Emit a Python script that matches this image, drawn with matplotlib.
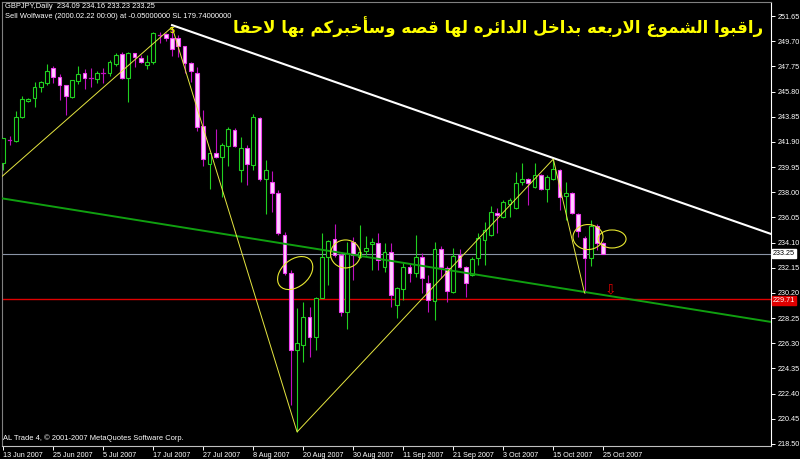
import numpy as np
import matplotlib
matplotlib.use('Agg')
import matplotlib.pyplot as plt
from matplotlib.patches import Rectangle, Ellipse
from matplotlib.transforms import ScaledTranslation

# GBPJPY daily, 13 Jun 2007 .. 25 Oct 2007 (one bar per trading day)
opens = [240.26, 242.05, 241.97, 243.83, 245.07, 245.30, 246.15, 246.46, 247.62, 246.93,
         246.31, 245.38, 246.62, 247.23, 246.85, 246.77, 247.23, 247.23, 247.93, 248.71,
         246.85, 248.78, 248.40, 247.85, 248.09, 250.18, 250.26, 249.95, 249.95, 249.33,
         248.01, 247.23, 243.13, 240.19, 241.04, 240.73, 241.58, 242.82, 239.72, 241.43,
         240.11, 243.75, 239.02, 238.79, 237.94, 234.69, 231.74, 225.78, 226.17, 228.34,
         226.79, 229.81, 232.98, 234.38, 233.14, 228.72, 234.15, 232.98, 233.45, 233.99,
         234.07, 232.21, 233.37, 229.27, 230.50, 232.21, 231.74, 232.98, 230.97, 229.57,
         233.60, 232.13, 230.27, 233.14, 232.21, 231.59, 232.91, 234.30, 234.69, 236.39,
         236.08, 237.09, 236.78, 238.79, 239.02, 238.41, 239.33, 238.25, 239.02, 239.72,
         237.71, 237.94, 236.31, 234.45, 232.91, 235.38, 234.09]
highs = [242.20, 242.36, 244.29, 245.45, 245.30, 246.54, 246.62, 247.93, 247.78, 247.16,
         246.31, 246.69, 247.78, 247.54, 247.62, 247.39, 247.62, 248.24, 248.78, 248.86,
         248.86, 248.78, 248.63, 248.63, 250.41, 250.41, 250.33, 250.80, 250.18, 249.33,
         248.09, 247.70, 244.37, 241.04, 242.90, 241.81, 243.05, 242.98, 242.28, 241.66,
         244.06, 243.83, 240.50, 239.64, 238.17, 234.92, 231.98, 229.03, 229.50, 229.11,
         229.88, 234.84, 234.30, 235.54, 233.29, 234.15, 234.53, 235.46, 234.61, 234.45,
         234.84, 234.07, 234.07, 230.66, 232.52, 232.52, 234.69, 233.29, 231.59, 234.15,
         233.83, 232.29, 233.68, 233.60, 232.29, 232.98, 234.84, 235.69, 236.93, 236.78,
         237.40, 237.55, 239.57, 240.26, 239.10, 240.26, 239.41, 239.33, 240.57, 239.80,
         238.79, 238.02, 236.39, 234.61, 235.85, 235.54, 234.16]
lows = [239.72, 241.66, 241.89, 243.75, 244.99, 244.60, 245.76, 246.31, 246.46, 245.14,
        243.98, 245.30, 246.38, 246.00, 246.15, 246.46, 246.46, 247.00, 247.78, 246.77,
        244.99, 247.70, 248.01, 247.54, 247.93, 249.56, 249.71, 248.55, 248.47, 247.23,
        246.54, 242.74, 240.03, 238.25, 240.65, 237.63, 240.03, 241.50, 238.79, 238.56,
        239.72, 238.87, 236.31, 236.47, 234.69, 231.59, 221.52, 219.43, 224.85, 225.24,
        225.78, 229.81, 230.81, 232.98, 228.41, 227.41, 231.20, 232.91, 233.14, 231.98,
        231.98, 231.82, 229.11, 228.26, 229.65, 231.05, 231.43, 230.19, 228.72, 228.10,
        231.36, 229.50, 230.19, 232.13, 229.88, 231.51, 232.36, 232.36, 234.61, 234.84,
        236.00, 236.08, 236.70, 238.56, 237.01, 238.33, 238.17, 237.24, 238.95, 236.62,
        235.85, 236.31, 234.53, 230.19, 232.29, 233.53, 233.23]
closes = [242.20, 241.97, 243.83, 245.22, 245.22, 246.15, 246.54, 247.39, 246.93, 246.31,
          245.45, 246.69, 247.16, 246.85, 246.77, 247.23, 247.16, 248.09, 248.63, 246.85,
          248.78, 248.47, 248.09, 248.09, 250.33, 250.10, 249.95, 249.09, 249.33, 248.01,
          247.39, 243.05, 240.57, 241.04, 240.73, 241.66, 242.90, 241.58, 241.43, 240.19,
          243.83, 239.02, 239.72, 237.94, 234.84, 231.74, 225.78, 226.32, 228.34, 226.79,
          229.81, 232.98, 234.22, 233.14, 228.72, 233.29, 233.14, 233.37, 233.68, 234.15,
          232.75, 233.37, 230.04, 230.58, 232.21, 231.74, 232.98, 231.36, 229.65, 233.60,
          232.21, 230.35, 233.06, 232.21, 230.97, 232.83, 234.45, 235.07, 236.47, 236.24,
          237.24, 237.40, 238.72, 239.02, 238.72, 239.33, 238.25, 239.18, 239.80, 237.63,
          237.94, 236.39, 235.00, 232.91, 235.38, 234.07, 233.25]

date_labels = ['13 Jun 2007', '25 Jun 2007', '5 Jul 2007', '17 Jul 2007', '27 Jul 2007',
               '8 Aug 2007', '20 Aug 2007', '30 Aug 2007', '11 Sep 2007', '21 Sep 2007',
               '3 Oct 2007', '15 Oct 2007', '25 Oct 2007']
price_ticks = [218.50 + 1.95 * k for k in range(18)]

last_price = 233.25
stop_level = 229.71

# wolfe wave zigzag (bar index, price)
wolfe_x = [-0.5, 27, 47, 88, 93]
wolfe_y = [239.10, 250.80, 219.43, 240.57, 230.19]
# trend lines, two anchor points each
white_line = [(27, 250.95), (88, 240.65)]
green_line = [(0, 237.51), (96, 230.04)]
# hand drawn circles: bar, price, width(in), height(in), angle
circles = [(46.7, 231.74, 0.40, 0.27, 40), (54.75, 233.22, 0.30, 0.28, 0),
           (93.55, 234.53, 0.30, 0.25, 0), (97.4, 234.38, 0.28, 0.18, 0)]

title = 'راقبوا الشموع الاربعه بداخل الدائره لها قصه وسأخبركم بها لاحقا'

# very small arabic shaper (matplotlib has no shaping / bidi)
FORMS = {
    'ا': ('\uFE8D', '\uFE8E', None, None),
    'أ': ('\uFE83', '\uFE84', None, None),
    'ب': ('\uFE8F', '\uFE90', '\uFE91', '\uFE92'),
    'ح': ('\uFEA1', '\uFEA2', '\uFEA3', '\uFEA4'),
    'خ': ('\uFEA5', '\uFEA6', '\uFEA7', '\uFEA8'),
    'د': ('\uFEA9', '\uFEAA', None, None),
    'ر': ('\uFEAD', '\uFEAE', None, None),
    'س': ('\uFEB1', '\uFEB2', '\uFEB3', '\uFEB4'),
    'ش': ('\uFEB5', '\uFEB6', '\uFEB7', '\uFEB8'),
    'ص': ('\uFEB9', '\uFEBA', '\uFEBB', '\uFEBC'),
    'ع': ('\uFEC9', '\uFECA', '\uFECB', '\uFECC'),
    'ق': ('\uFED5', '\uFED6', '\uFED7', '\uFED8'),
    'ك': ('\uFED9', '\uFEDA', '\uFEDB', '\uFEDC'),
    'ل': ('\uFEDD', '\uFEDE', '\uFEDF', '\uFEE0'),
    'م': ('\uFEE1', '\uFEE2', '\uFEE3', '\uFEE4'),
    'ه': ('\uFEE9', '\uFEEA', '\uFEEB', '\uFEEC'),
    'و': ('\uFEED', '\uFEEE', None, None),
    'ئ': ('\uFE89', '\uFE8A', '\uFE8B', '\uFE8C'),
}


def shape(text):
    words = []
    for word in text.split(' '):
        ch = list(word)
        res = []
        i = 0
        while i < len(ch):
            c = ch[i]
            prev_joins = i > 0 and FORMS[ch[i - 1]][2] is not None
            if c == 'ل' and i + 1 < len(ch) and ch[i + 1] == 'ا':
                res.append('\uFEFC' if prev_joins else '\uFEFB')
                i += 2
                continue
            f = FORMS[c]
            next_joins = f[2] is not None and i + 1 < len(ch)
            if prev_joins and next_joins:
                res.append(f[3])
            elif prev_joins:
                res.append(f[1])
            elif next_joins:
                res.append(f[2])
            else:
                res.append(f[0])
            i += 1
        words.append(''.join(res))
    return ' '.join(words)[::-1]


W, H = 800, 459
fig = plt.figure(figsize=(W / 100, H / 100), dpi=100, facecolor='black')
ax = fig.add_axes([2 / W, 13 / H, 769 / W, 444 / H])
ax.set_facecolor('black')

n = len(opens)
bw = 0.6
for i in range(n):
    o, h, l, c = opens[i], highs[i], lows[i], closes[i]
    bull = c > o
    wick_col = '#20d020' if bull else '#c010c0'
    ax.plot([i, i], [l, h], color=wick_col, lw=0.8, zorder=2, solid_capstyle='butt')
    if abs(c - o) < 0.1:
        ax.plot([i - bw / 2, i + bw / 2], [o, o], color=wick_col, lw=0.9, zorder=3)
    elif bull:
        ax.add_patch(Rectangle((i - bw / 2, o), bw, c - o, facecolor='black',
                               edgecolor='#20d020', lw=0.8, zorder=3))
    else:
        ax.add_patch(Rectangle((i - bw / 2, c), bw, o - c, facecolor='#ffd0ff',
                               edgecolor='#f040f0', lw=0.8, zorder=3))

xmin, xmax = -0.21, 122.83
ymin, ymax = 218.34, 252.74

# horizontal levels
ax.axhline(last_price, color='#8a94a6', lw=0.8, zorder=1)
ax.axhline(stop_level, color='#e00000', lw=1.0, zorder=1)

# trend lines extended across the chart
(x1, y1), (x2, y2) = green_line
k = (y2 - y1) / (x2 - x1)
ax.plot([xmin, xmax], [y1 + k * (xmin - x1), y1 + k * (xmax - x1)], color='#10a010', lw=1.4, zorder=4)
(x1, y1), (x2, y2) = white_line
k = (y2 - y1) / (x2 - x1)
ax.plot([x1, xmax], [y1, y1 + k * (xmax - x1)], color='white', lw=1.5, zorder=4)

ax.plot(wolfe_x, wolfe_y, color='#e6e640', lw=0.7, zorder=5)
ax.text(wolfe_x[1], wolfe_y[1] - 0.3, '5', color='#f0f000', fontsize=6.5,
        ha='center', va='center', family='Liberation Sans', fontweight='bold', zorder=6)

for cx, cy, w, h, ang in circles:
    tr = fig.dpi_scale_trans + ScaledTranslation(cx, cy, ax.transData)
    ax.add_patch(Ellipse((0, 0), w, h, angle=ang, transform=tr, fill=False,
                         edgecolor='#e8e830', lw=0.8, zorder=6))

ax.text(97.2, 230.5, '\u21e9', color='#e00000', fontsize=10, ha='center', va='center', zorder=6)

ax.set_xlim(xmin, xmax)
ax.set_ylim(ymin, ymax)

ax.set_xticks([8 * j - 0.1 for j in range(len(date_labels))])
ax.set_xticklabels(date_labels, ha='left', family='Liberation Sans', fontsize=5.2)
ax.set_yticks(price_ticks)
ax.set_yticklabels(['%.2f' % p for p in price_ticks], family='Liberation Sans', fontsize=5.2)
ax.yaxis.tick_right()
ax.tick_params(axis='both', colors='white', length=3, width=0.7, pad=1.5)
ax.tick_params(axis='x', pad=1)

for side in ['left', 'top']:
    ax.spines[side].set_color('#808080')
    ax.spines[side].set_linewidth(0.8)
ax.spines['right'].set_color('white')
ax.spines['bottom'].set_color('#c0c0c0')

# price boxes on the scale
ax.annotate('%.2f' % last_price, xy=(1.0, last_price), xycoords=('axes fraction', 'data'),
            xytext=(1.5, 0), textcoords='offset points', va='center', ha='left',
            fontsize=5.2, family='Liberation Sans', color='black',
            bbox=dict(boxstyle='square,pad=0.15', fc='white', ec='white'), zorder=10,
            annotation_clip=False)
ax.annotate('%.2f' % stop_level, xy=(1.0, stop_level - 0.08), xycoords=('axes fraction', 'data'),
            xytext=(1.5, 0), textcoords='offset points', va='center', ha='left',
            fontsize=5.2, family='Liberation Sans', color='white',
            bbox=dict(boxstyle='square,pad=0.12', fc='#e00000', ec='#e00000'), zorder=10,
            annotation_clip=False)

# header texts
fig.text(5 / W, 1 - 7 / H, 'GBPJPY,Daily  234.09 234.16 233.23 233.25', color='white',
         fontsize=5.4, family='Liberation Sans', va='center', ha='left')
fig.text(5 / W, 1 - 16 / H, 'Sell Wolfwave (2000.02.22 00:00) at -0.05000000 SL 179.74000000',
         color='white', fontsize=5.4, family='Liberation Sans', va='center', ha='left')
fig.text(3 / W, 1 - 438 / H, 'AL Trade 4, \u00a9 2001-2007 MetaQuotes Software Corp.',
         color='white', fontsize=5.4, family='Liberation Sans', va='center', ha='left')

fig.text(763 / W, 1 - 27 / H, shape(title), color='#ffff00', fontsize=12,
         family='DejaVu Sans', fontweight='bold', ha='right', va='center')

fig.savefig('out.png', dpi=100, facecolor='black')
